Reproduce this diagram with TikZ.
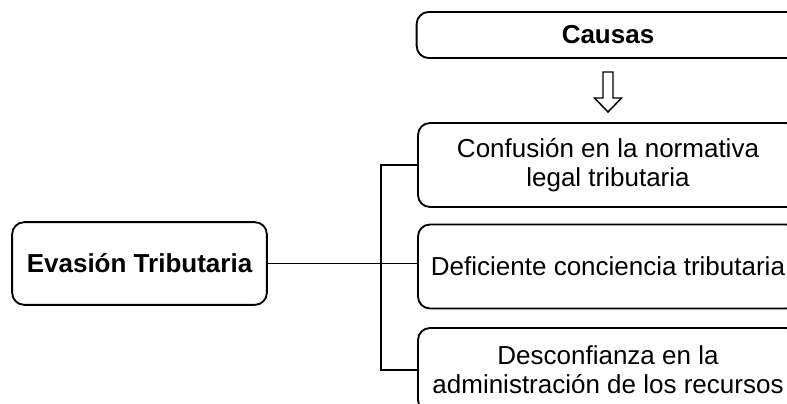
\documentclass[tikz,border=0pt]{standalone}
\usepackage{fontspec}
\setmainfont{Liberation Sans}

\begin{document}
\begin{tikzpicture}[
                x=0.75pt, y=-0.75pt,
                line width=1.4pt,
                caja/.style={draw, rounded corners=9pt, align=center, inner sep=0pt,
                    font=\fontsize{19.5}{22}\selectfont},
                titulo/.style={caja, font=\bfseries\fontsize{19.5}{22}\selectfont},
                causa/.style={caja, minimum width=285pt, minimum height=63pt}
                ]
                \useasboundingbox (0,0) rectangle (787,403);
                \clip (0,0) rectangle (787,403);
                % Problema
                \node[titulo, minimum width=191pt, minimum height=62pt]
                    (evasion) at (139.5,263.5) {Evasi\'on Tributaria};
                % Causas
                \node[titulo, minimum width=287pt, minimum height=34.5pt]
                    (causas) at (608,35) {Causas};
                \coordinate (baja) at (608,72);
                \draw[line width=1.1pt, line join=miter] (baja) ++(-5,0) -- ++(0,26) -- ++(-8.5,0)
                    -- ++(13.5,14) -- ++(13.5,-14) -- ++(-8.5,0) -- ++(0,-26) -- cycle;
                \node[causa] (c1) at (608,165) {Confusi\'on en la normativa\\legal tributaria};
                \node[causa] (c2) at (608,266.5) {Deficiente conciencia tributaria};
                \node[causa] (c3) at (608,370) {Desconfianza en la\\administraci\'on de los recursos};
                % Llaves
                \draw (evasion.east) -- (evasion.east -| c2.west);
                \draw (c1.west) -- ++(-36,0) |- (c3.west);
            \end{tikzpicture}
\end{document}
